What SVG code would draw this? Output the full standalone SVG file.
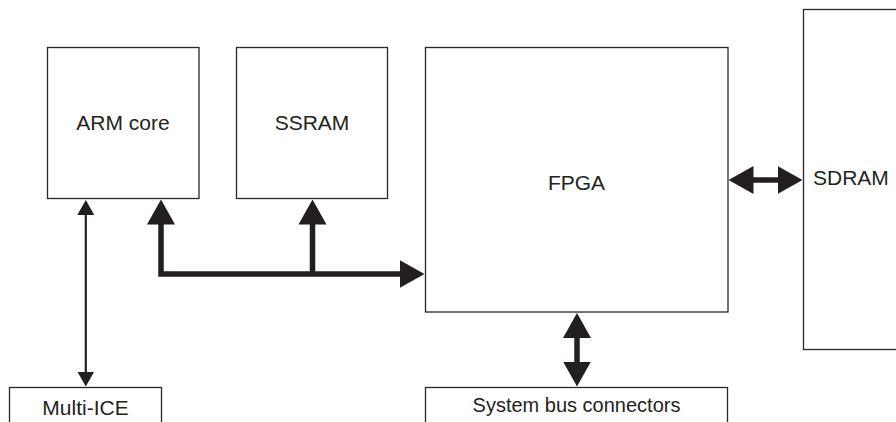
<svg xmlns="http://www.w3.org/2000/svg" width="896" height="422" viewBox="0 0 896 422">
<style>
.box{fill:#fff;stroke:#2b2728;stroke-width:1.3}
.lbl{font-family:"Liberation Sans",Arial,sans-serif;font-size:21px;fill:#231f20;text-anchor:middle}
.thin{fill:none;stroke:#231f20;stroke-width:2.2}
.thick{fill:none;stroke:#231f20;stroke-width:5.5;stroke-linejoin:miter;stroke-linecap:butt}
</style>
<defs>
<marker id="ah" viewBox="0 0 25 28" markerUnits="userSpaceOnUse" markerWidth="25" markerHeight="28" refX="0.5" refY="14" orient="auto-start-reverse"><path d="M0,0 L25,14 L0,28 Z" fill="#231f20"/></marker>
<marker id="ahs" viewBox="0 0 15 17" markerUnits="userSpaceOnUse" markerWidth="15" markerHeight="17" refX="0.5" refY="8.5" orient="auto-start-reverse"><path d="M0,0 L15,8.5 L0,17 Z" fill="#231f20"/></marker>
</defs>
<rect width="896" height="422" fill="#fff"/>
<g id="arm"><rect class="box" x="47.5" y="47.5" width="151.5" height="151"/><text class="lbl" x="123" y="130">ARM core</text></g>
<g id="ssram"><rect class="box" x="236.5" y="47.5" width="151" height="151"/><text class="lbl" x="312" y="130">SSRAM</text></g>
<g id="fpga"><rect class="box" x="425.5" y="47.5" width="302.5" height="264.5"/><text class="lbl" x="576.5" y="189.5">FPGA</text></g>
<g id="sdram"><rect class="box" x="803.5" y="9.5" width="110" height="340"/><text class="lbl" x="813" y="185" style="text-anchor:start">SDRAM</text></g>
<g id="multiice"><rect class="box" x="9.5" y="387.5" width="152" height="50"/><text class="lbl" x="85.5" y="415">Multi-ICE</text></g>
<g id="sysbus"><rect class="box" x="425.5" y="387.5" width="302" height="50"/><text class="lbl" x="576.5" y="411.5" style="font-size:20px">System bus connectors</text></g>
<g id="connectors">
<path class="thin" d="M85.8,214.5 V372" marker-start="url(#ahs)" marker-end="url(#ahs)"/>
<path class="thick" d="M161,224 V274 H400" marker-start="url(#ah)" marker-end="url(#ah)"/>
<path class="thick" d="M312.5,274 V224" marker-end="url(#ah)"/>
<path class="thick" d="M753,180 H778" marker-start="url(#ah)" marker-end="url(#ah)"/>
<path class="thick" d="M577,337.5 V362" marker-start="url(#ah)" marker-end="url(#ah)"/>
</g>
</svg>
